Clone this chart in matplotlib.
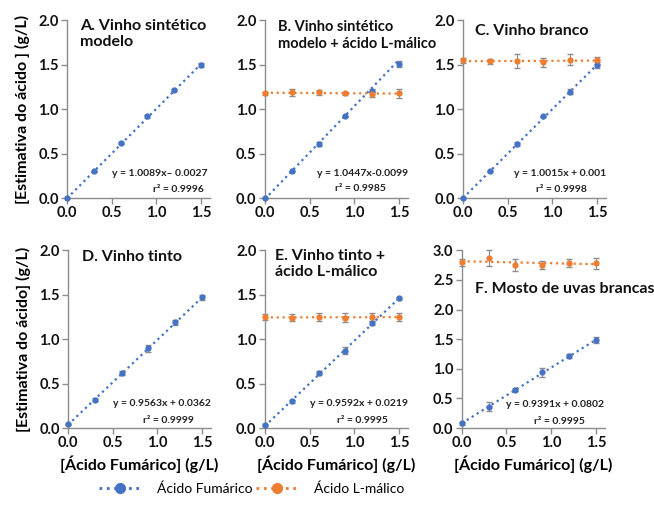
"""Six calibration panels: estimated vs added fumaric acid, with L-malic acid."""

import matplotlib.pyplot as plt
import numpy as np

plt.rcParams["font.family"] = ["Lato", "DejaVu Sans"]

blue = "#4472c4"
orange = "#ed7d31"
grey = "#8c8c8c"

x_added = [0.0, 0.3, 0.6, 0.9, 1.2, 1.5]

titles = [
    "A. Vinho sintético\nmodelo",
    "B. Vinho sintético\nmodelo + ácido L-málico",
    "C. Vinho branco",
    "D. Vinho tinto",
    "E. Vinho tinto +\nácido L-málico",
    "F. Mosto de uvas brancas",
]

fum_a = [0.0, 0.30, 0.62, 0.92, 1.22, 1.50]
fum_b = [0.0, 0.30, 0.61, 0.92, 1.21, 1.51]
fum_c = [0.0, 0.30, 0.61, 0.92, 1.20, 1.50]
fum_d = [0.04, 0.32, 0.62, 0.90, 1.19, 1.47]
fum_e = [0.03, 0.30, 0.62, 0.87, 1.18, 1.46]
fum_f = [0.08, 0.36, 0.65, 0.94, 1.22, 1.48]

fum_err_a = [0.0, 0.01, 0.01, 0.02, 0.01, 0.02]
fum_err_b = [0.0, 0.01, 0.02, 0.01, 0.02, 0.03]
fum_err_c = [0.0, 0.01, 0.02, 0.01, 0.03, 0.03]
fum_err_d = [0.01, 0.02, 0.02, 0.04, 0.03, 0.03]
fum_err_e = [0.01, 0.02, 0.02, 0.04, 0.02, 0.02]
fum_err_f = [0.03, 0.08, 0.02, 0.07, 0.03, 0.05]

mal_b = [1.18, 1.19, 1.19, 1.18, 1.17, 1.18]
mal_c = [1.55, 1.54, 1.54, 1.53, 1.56, 1.55]
mal_e = [1.25, 1.24, 1.25, 1.24, 1.25, 1.25]
mal_f = [2.80, 2.87, 2.76, 2.75, 2.79, 2.78]

mal_err_b = [0.02, 0.04, 0.03, 0.02, 0.03, 0.05]
mal_err_c = [0.03, 0.03, 0.08, 0.05, 0.06, 0.04]
mal_err_e = [0.03, 0.04, 0.04, 0.05, 0.04, 0.04]
mal_err_f = [0.06, 0.13, 0.10, 0.07, 0.07, 0.09]

slopes = [1.0089, 1.0447, 1.0015, 0.9563, 0.9592, 0.9391]
intercepts = [-0.0027, -0.0099, 0.001, 0.0362, 0.0219, 0.0802]
equations = [
    "y = 1.0089x\u2013 0.0027",
    "y = 1.0447x-0.0099",
    "y = 1.0015x + 0.001",
    "y = 0.9563x + 0.0362",
    "y = 0.9592x + 0.0219",
    "y = 0.9391x + 0.0802",
]
r2_labels = ["0.9996", "0.9985", "0.9998", "0.9999", "0.9995", "0.9995"]

fumaric = [fum_a, fum_b, fum_c, fum_d, fum_e, fum_f]
fumaric_err = [fum_err_a, fum_err_b, fum_err_c, fum_err_d, fum_err_e, fum_err_f]
malic = [None, mal_b, mal_c, None, mal_e, mal_f]
malic_err = [None, mal_err_b, mal_err_c, None, mal_err_e, mal_err_f]

lefts = [0.1024, 0.405, 0.708, 0.104, 0.405, 0.706]
bottoms = [0.613, 0.613, 0.613, 0.164, 0.164, 0.164]
width, height = 0.2187, 0.347
ymaxes = [2.0, 2.0, 2.0, 2.0, 2.0, 3.0]
title_pos = [(0.09, 1.01), (0.09, 1.0), (0.085, 0.98), (0.10, 1.0), (0.07, 1.01), (0.09, 0.82)]
title_size = [11.5, 10.5, 11.5, 11.5, 11.5, 11.5]
eq_pos = [(0.65, 0.14), (0.68, 0.14), (0.68, 0.14), (0.66, 0.14), (0.66, 0.14), (0.65, 0.13)]
r2_pos = [(0.78, 0.05), (0.67, 0.055), (0.69, 0.05), (0.70, 0.045), (0.68, 0.045), (0.68, 0.035)]

fig = plt.figure(figsize=(6.54, 5.12), dpi=100)
fig.patch.set_facecolor("white")

for i in range(6):
    ax = fig.add_axes([lefts[i], bottoms[i], width, height])
    xs = np.array(x_added)
    fit_x = np.array([0.0, 1.5])
    ax.plot(fit_x, slopes[i] * fit_x + intercepts[i], ls=":", lw=1.6, color=blue,
            clip_on=False, zorder=2)
    ax.errorbar(xs, fumaric[i], yerr=fumaric_err[i], fmt="o", ms=3.5, color=blue,
                ecolor=grey, elinewidth=0.8, capsize=2, clip_on=False, zorder=3)
    if malic[i] is not None:
        k, b = np.polyfit(xs, malic[i], 1)
        ax.plot(fit_x, k * fit_x + b, ls=":", lw=1.6, color=orange, clip_on=False, zorder=2)
        ax.errorbar(xs, malic[i], yerr=malic_err[i], fmt="o", ms=3.5, color=orange,
                    ecolor=grey, elinewidth=0.8, capsize=2, clip_on=False, zorder=3)

    ax.set_xlim(0, 1.6)
    ax.set_ylim(0, ymaxes[i])
    ax.set_xticks([0.0, 0.5, 1.0, 1.5])
    ax.set_yticks(np.arange(0, ymaxes[i] + 0.01, 0.5))
    ax.xaxis.set_major_formatter("{x:.1f}")
    ax.yaxis.set_major_formatter("{x:.1f}")
    for side in ("top", "right"):
        ax.spines[side].set_visible(False)
    for side in ("left", "bottom"):
        ax.spines[side].set_color(grey)
        ax.spines[side].set_linewidth(1.0)
    ax.tick_params(direction="out", length=4, width=1.0, color=grey,
                   labelsize=10.5, pad=2, labelcolor="#111111")
    for lbl in ax.get_xticklabels() + ax.get_yticklabels():
        lbl.set_fontweight("bold")

    ax.text(*title_pos[i], titles[i], transform=ax.transAxes, ha="left", va="top",
            fontsize=title_size[i], fontweight="bold", color="#111111", linespacing=1.25)
    ax.text(*eq_pos[i], equations[i], transform=ax.transAxes, ha="center", va="center",
            fontsize=7.5, fontweight="bold", color="#222222")
    ax.text(*r2_pos[i], "r\u00b2 = " + r2_labels[i], transform=ax.transAxes, ha="center",
            va="center", fontsize=7.5, fontweight="bold", color="#222222")

    if i in (0, 3):
        ylab = "[Estimativa do ácido ] (g/L)" if i == 0 else "[Estimativa do ácido] (g/L)"
        ax.set_ylabel(ylab, fontsize=11.5, fontweight="bold", labelpad=6)
    if i >= 3:
        ax.set_xlabel("[Ácido Fumárico] (g/L)", fontsize=11.5, fontweight="bold", labelpad=4)

handles = [
    plt.Line2D([], [], ls=":", lw=2, color=blue, marker="o", ms=7),
    plt.Line2D([], [], ls=":", lw=2, color=orange, marker="o", ms=7),
]
fig.legend(handles, ["Ácido Fumárico", "Ácido L-málico"], loc="center",
           bbox_to_anchor=(0.385, 0.045), ncol=2, frameon=False, fontsize=10,
           handlelength=3.0, handletextpad=1.2, columnspacing=0.2)

plt.savefig("out.png", dpi=100)
